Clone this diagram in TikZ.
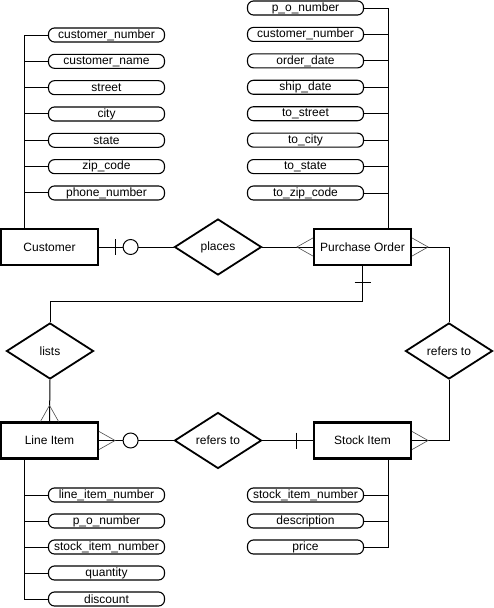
\documentclass[tikz,border=0pt]{standalone}
\usepackage{fontspec}
\setmainfont{Liberation Sans}
\usetikzlibrary{shapes.geometric}
\begin{document}
\begin{tikzpicture}[x=1pt, y=-1pt, every node/.style={font=\fontsize{12}{14}\selectfont},
	entity/.style={draw, line width=2.2pt, minimum width=97pt, minimum height=36pt, inner sep=0pt},
	attr/.style={draw, line width=1.1pt, rounded corners=6pt, minimum width=116pt, minimum height=14pt, inner sep=0pt},
	rel/.style={draw, diamond, aspect=1.55, line width=1.8pt, minimum width=87pt, minimum height=56pt, inner sep=0pt},
	foot/.style={line width=0.6pt, draw=black!70},
	link/.style={line width=1pt}]
	\useasboundingbox (0,0) rectangle (493,608);
		% entities and relationships
		\node[entity] (cust) at (49.5,247) {Customer};
		\node[entity] (po) at (362.5,247) {Purchase Order};
		\node[entity] (litem) at (49.5,440.5) {Line Item};
		\node[entity] (stock) at (362.5,440.5) {Stock Item};
		\node[rel] (places) at (218,247) {places};
		\node[rel] (lists) at (50,351) {lists};
		\node[rel] (orderref) at (449,351) {refers to};
		\node[rel] (itemref) at (218,440.5) {refers to};
		% attributes
		\foreach \t [count=\i] in {customer\_number, customer\_name, street, city, state, zip\_code, phone\_number}
			\node[attr] (ca\i) at (106.5,{35+26.33*(\i-1)}) {\t};
		\foreach \t [count=\i] in {p\_o\_number, customer\_number, order\_date, ship\_date, to\_street, to\_city, to\_state, to\_zip\_code}
			\node[attr] (pa\i) at (305.5,{8+26.43*(\i-1)}) {\t};
		\foreach \t [count=\i] in {line\_item\_number, p\_o\_number, stock\_item\_number, quantity, discount}
			\node[attr] (la\i) at (106.5,{495+26*(\i-1)}) {\t};
		\foreach \t [count=\i] in {stock\_item\_number, description, price}
			\node[attr] (sa\i) at (305.5,{495+26*(\i-1)}) {\t};
		\draw[link] (ca1.west) -| ([xshift=-25.5pt]cust.north);
		\foreach \i in {2,...,7} \draw[link] (ca\i.west) -- ++(-24,0);
		\draw[link] (pa1.east) -| ([xshift=25.5pt]po.north);
		\foreach \i in {2,...,8} \draw[link] (pa\i.east) -- ++(24,0);
		\draw[link] ([xshift=-25.5pt]litem.south) |- (la5.west);
		\foreach \i in {1,...,4} \draw[link] (la\i.west) -- ++(-24,0);
		\draw[link] ([xshift=25.5pt]stock.south) |- (sa3.east);
		\foreach \i in {1,2} \draw[link] (sa\i.east) -- ++(24,0);
		% relationships
		\draw[link] (cust.east) -- (places.west);
		\draw[link] (places.east) -- (po.west);
		\draw[link] (po.east) -| (orderref.north);
		\draw[link] (orderref.south) |- (stock.east);
		\draw[link] (po.south) -- ++(0,35) -| (lists.north);
		\draw[link] (lists.south) -- (litem.north);
		\draw[link] (litem.east) -- (itemref.west);
		\draw[link] (itemref.east) -- (stock.west);
		% cardinality marks
		\draw[link] ([xshift=16pt]cust.east) +(0,-8) -- +(0,8);
		\draw[link, fill=white] ([xshift=31.5pt]cust.east) circle[radius=7.5];
		\draw[link] ([yshift=-16pt]po.south) +(-8,0) -- +(8,0);
		\draw[link] ([xshift=-16pt]stock.west) +(0,-8) -- +(0,8);
		\draw[link, fill=white] ([xshift=31.5pt]litem.east) circle[radius=7.5];
		\draw[foot] ([yshift=9pt]po.west) -- ([xshift=-16pt]po.west) -- ([yshift=-9pt]po.west);
		\draw[foot] ([yshift=9pt]po.east) -- ([xshift=16pt]po.east) -- ([yshift=-9pt]po.east);
		\draw[foot] ([yshift=9pt]stock.east) -- ([xshift=16pt]stock.east) -- ([yshift=-9pt]stock.east);
		\draw[foot] ([yshift=9pt]litem.east) -- ([xshift=16pt]litem.east) -- ([yshift=-9pt]litem.east);
		\draw[foot] ([xshift=-9pt]litem.north) -- ([yshift=16pt]litem.north) -- ([xshift=9pt]litem.north);
	\end{tikzpicture}
\end{document}
